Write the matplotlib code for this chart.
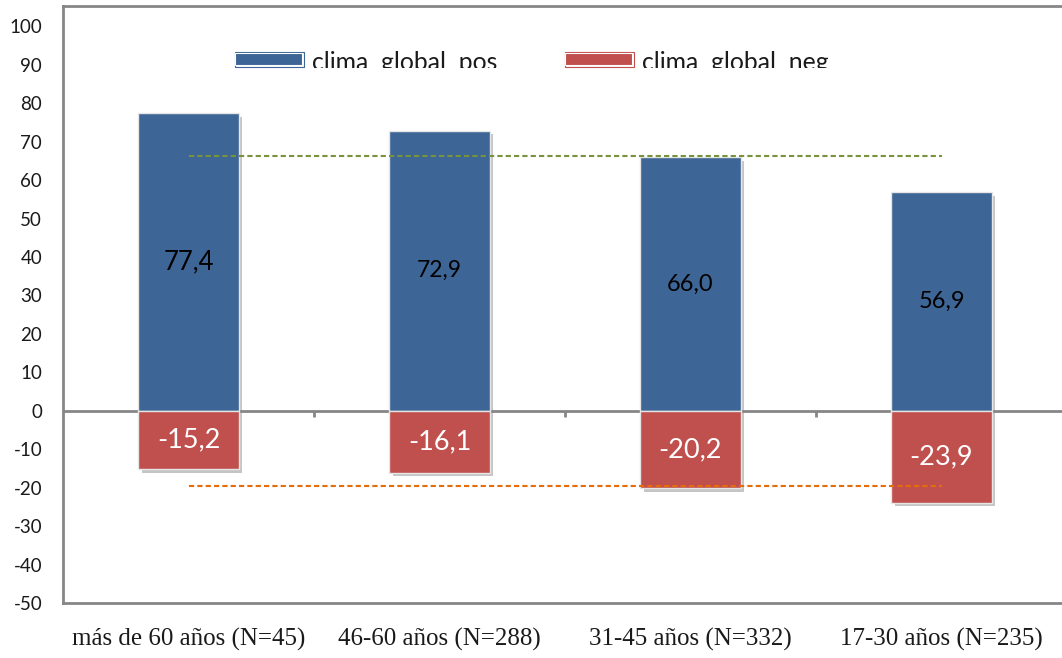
import numpy as np
import matplotlib
matplotlib.use("Agg")
import matplotlib.pyplot as plt
from matplotlib import patheffects as pe
from matplotlib.patches import Rectangle
from matplotlib.transforms import Bbox, TransformedBbox

# Data
categorias = ["más de 60 años (N=45)", "46-60 años (N=288)",
              "31-45 años (N=332)", "17-30 años (N=235)"]
clima_pos = [77.4, 72.9, 66.0, 56.9]
clima_neg = [-15.2, -16.1, -20.2, -23.9]
media_pos = 66.4
media_neg = -19.6
yticks = list(range(-50, 101, 10))

BLUE = "#3D6596"
RED = "#C0504D"
GREEN = "#77933C"
ORANGE = "#E46C0A"
GRAY = "#868686"
SANS = ["Lato", "DejaVu Sans"]
SERIF = ["Liberation Serif", "DejaVu Serif"]

W, H = 1062, 658
fig = plt.figure(figsize=(W / 100, H / 100), dpi=100)
ax = fig.add_axes([63 / W, 1 - 603 / H, 1004 / W, 597 / H])

x = np.arange(len(categorias))
shadow = [pe.SimplePatchShadow(offset=(2.5, -2.5), shadow_rgbFace="#808080", alpha=0.45),
          pe.Normal()]
bars_pos = ax.bar(x, clima_pos, width=0.4, color=BLUE, edgecolor="#e6e6e6",
                  linewidth=1.0, zorder=3)
bars_neg = ax.bar(x, clima_neg, width=0.4, color=RED, edgecolor="#e6e6e6",
                  linewidth=1.0, zorder=3)
for b in list(bars_pos) + list(bars_neg):
    b.set_path_effects(shadow)

# Value labels inside the bars
pos_sizes = [18.5, 16.5, 17, 17]
for xi, v, fs in zip(x, clima_pos, pos_sizes):
    ax.text(xi, v / 2, f"{v:.1f}".replace(".", ","), ha="center", va="center",
            fontsize=fs, family=SANS, color="black", zorder=5)
for xi, v in zip(x, clima_neg):
    ax.text(xi, v / 2, f"{v:.1f}".replace(".", ","), ha="center", va="center",
            fontsize=19.5, family=SANS, color="white", zorder=5)

# Mean reference lines
ax.plot(x, [media_pos] * len(x), color=GREEN, lw=1.5,
        linestyle=(0, (2.5, 1.5)), zorder=4)
ax.plot(x, [media_neg] * len(x), color=ORANGE, lw=1.5,
        linestyle=(0, (2.5, 1.5)), zorder=4)

# Category axis at zero with separators between groups
ax.axhline(0, color=GRAY, lw=2, zorder=2)
bounds = np.arange(len(categorias) - 1) + 0.5
ax.vlines(bounds, 0, -1.6, color=GRAY, lw=2, zorder=2)

ax.set_xlim(-0.5, len(categorias) - 0.5)
ax.set_ylim(-50, 105.3)
ax.set_yticks(yticks)
ax.set_yticklabels([str(t) for t in yticks], family=SANS, fontsize=13.5,
                   color="#1a1a1a")
ax.tick_params(axis="y", length=0, pad=15)
ax.set_xticks(x)
ax.set_xticklabels(categorias, family=SERIF, fontsize=18, color="#1a1a1a")
ax.tick_params(axis="x", length=0, pad=18)
for s in ["left", "top", "bottom", "right"]:
    ax.spines[s].set_color(GRAY)
    ax.spines[s].set_linewidth(2)

# Legend drawn on the figure, with the text clipped at its baseline
def px(xp, yp):
    return xp / W, 1 - yp / H

clip = TransformedBbox(Bbox.from_extents(0, 1 - 68.3 / H, 1, 1), fig.transFigure)
for (x0, color, label) in [(235, BLUE, "clima  global  pos"),
                           (565, RED, "clima  global  neg")]:
    ox, oy = px(x0, 66.5)
    fig.patches.append(Rectangle((ox, oy), 69 / W, 14 / H, transform=fig.transFigure,
                                 facecolor="none", edgecolor=color, lw=0.8))
    fx, fy = px(x0, 64.5)
    fig.patches.append(Rectangle((fx, fy), 67 / W, 12 / H, transform=fig.transFigure,
                                 facecolor=color, edgecolor="white", lw=0.8))
    tx, ty = px(x0 + 77, 70)
    t = fig.text(tx, ty, label, ha="left", va="baseline", fontsize=17.8,
                 family=SANS, color="#1a1a1a")
    t.set_clip_box(clip)
    t.set_clip_on(True)

fig.savefig("out.png", dpi=100)
